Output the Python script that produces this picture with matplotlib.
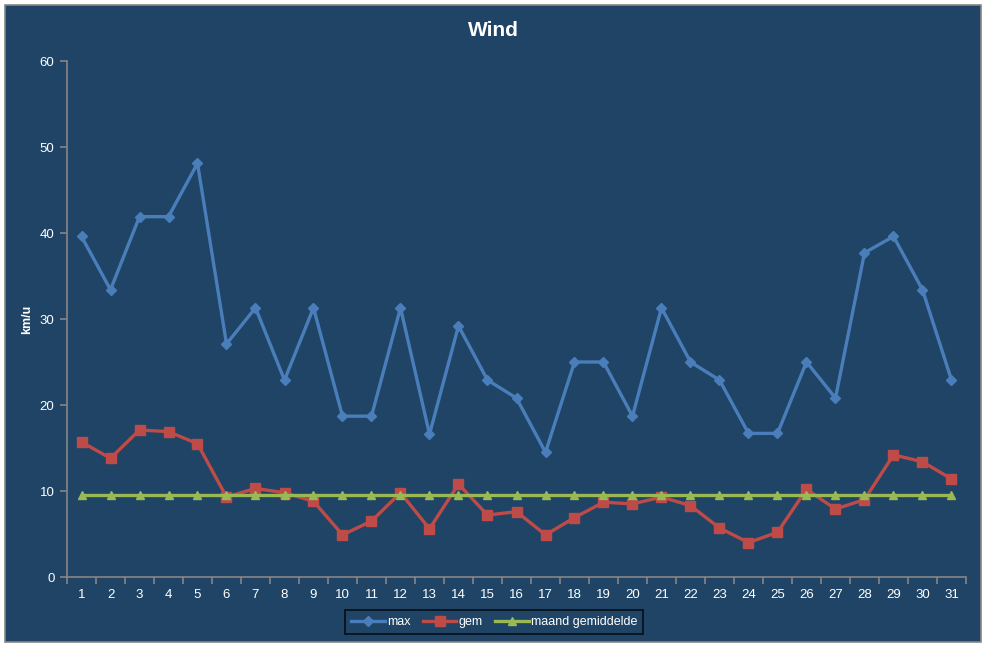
import matplotlib.pyplot as plt
from matplotlib.patches import Rectangle
from matplotlib.ticker import FixedLocator

# Daily wind data (km/u)
days = list(range(1, 32))
max_wind = [39.6, 33.4, 41.9, 41.9, 48.1, 27.1, 31.3, 22.9, 31.3, 18.7,
            18.7, 31.3, 16.6, 29.2, 22.9, 20.8, 14.5, 25.0, 25.0, 18.7,
            31.3, 25.0, 22.9, 16.7, 16.7, 25.0, 20.8, 37.7, 39.6, 33.4, 22.9]
gem_wind = [15.7, 13.8, 17.1, 16.9, 15.5, 9.3, 10.3, 9.8, 8.8, 4.9,
            6.5, 9.8, 5.6, 10.8, 7.2, 7.6, 4.9, 6.9, 8.7, 8.5,
            9.3, 8.3, 5.7, 4.0, 5.2, 10.2, 7.9, 9.0, 14.2, 13.4, 11.4]
month_avg = [9.5] * 31

BG = "#1F4465"
AXIS = "#868686"
W, H = 987, 648

plt.rcParams['font.family'] = ['Liberation Sans', 'DejaVu Sans']

fig = plt.figure(figsize=(W / 100, H / 100), dpi=100)
fig.patch.set_facecolor("white")

# chart area with gray border
fig.patches.append(Rectangle((5 / W, 1 - 642 / H), 976 / W, 637 / H,
                             transform=fig.transFigure, facecolor=BG,
                             edgecolor=AXIS, linewidth=1.2, zorder=-5))

ax = fig.add_axes([67 / W, 1 - 577 / H, 899 / W, 516 / H])
ax.set_facecolor(BG)

ax.plot(days, max_wind, color="#4A7EBB", lw=2.4, marker="D", ms=5, label="max")
ax.plot(days, gem_wind, color="#BE4B48", lw=2.4, marker="s", ms=7, label="gem")
ax.plot(days, month_avg, color="#98B954", lw=2.4, marker="^", ms=6,
        label="maand gemiddelde")

ax.set_xlim(0.5, 31.5)
ax.set_ylim(0, 60)
ax.set_yticks(range(0, 61, 10))
ax.set_xticks(days)
ax.xaxis.set_minor_locator(FixedLocator([d + 0.5 for d in range(0, 32)]))

for s in ["top", "right"]:
    ax.spines[s].set_visible(False)
for s in ["left", "bottom"]:
    ax.spines[s].set_color(AXIS)
    ax.spines[s].set_linewidth(1.2)

ax.tick_params(axis="x", which="major", length=0, pad=9, colors="white",
               labelsize=9.5)
ax.tick_params(axis="x", which="minor", length=5, color=AXIS, width=1.2)
ax.tick_params(axis="y", length=5, color=AXIS, width=1.2, labelcolor="white",
               labelsize=9.5, pad=4)

ax.set_ylabel("km/u", color="white", fontsize=9, fontweight="bold", labelpad=5)
fig.text(493 / W, 1 - 31 / H, "Wind", color="white", fontsize=15,
         fontweight="bold", ha="center", va="center")

leg = fig.legend(loc="center", bbox_to_anchor=(494 / W, 1 - 622 / H),
                 ncol=3, frameon=True, fontsize=9, handlelength=2.7,
                 columnspacing=1.0, handletextpad=0.15, borderpad=0.5,
                 fancybox=False)
leg.get_frame().set_facecolor(BG)
leg.get_frame().set_edgecolor("black")
leg.get_frame().set_linewidth(1.2)
for t in leg.get_texts():
    t.set_color("white")

fig.savefig("out.png", dpi=100, facecolor=fig.get_facecolor())
